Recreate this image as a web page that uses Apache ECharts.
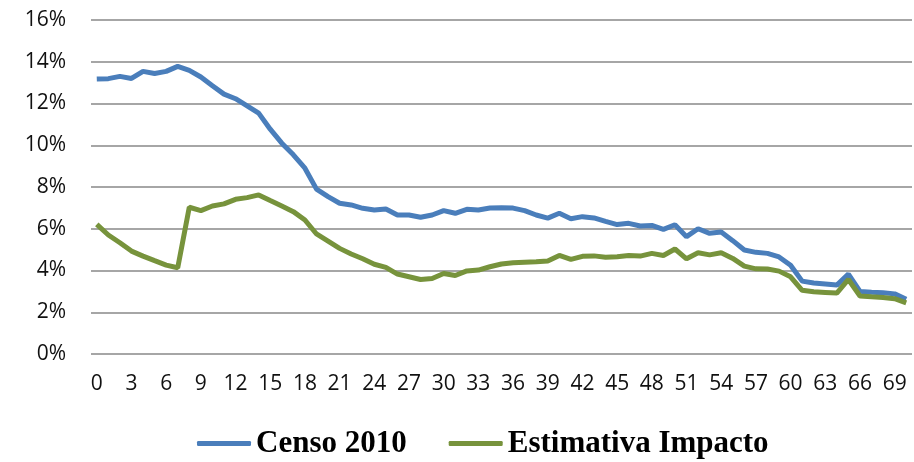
<!DOCTYPE html>
<html lang="pt">
<head>
<meta charset="UTF-8">
<title>Censo 2010 x Estimativa Impacto</title>
<script src="https://cdn.jsdelivr.net/npm/echarts@6/dist/echarts.min.js"></script>
<style>
  html, body { margin: 0; padding: 0; background: #fff; }
  #main { width: 914px; height: 462px; }
</style>
</head>
<body>
<div id="main"></div>
<script>
// idades (eixo x)
var idades = [0, 1, 2, 3, 4, 5, 6, 7, 8, 9, 10, 11, 12, 13, 14, 15, 16, 17, 18, 19,
  20, 21, 22, 23, 24, 25, 26, 27, 28, 29, 30, 31, 32, 33, 34, 35, 36, 37, 38, 39,
  40, 41, 42, 43, 44, 45, 46, 47, 48, 49, 50, 51, 52, 53, 54, 55, 56, 57, 58, 59,
  60, 61, 62, 63, 64, 65, 66, 67, 68, 69, 70];

// valores em %
var censo2010 = [13.17, 13.19, 13.30, 13.20, 13.54, 13.44, 13.54, 13.78, 13.59, 13.27,
  12.85, 12.45, 12.23, 11.89, 11.54, 10.77, 10.10, 9.54, 8.90, 7.90,
  7.54, 7.22, 7.14, 6.98, 6.90, 6.95, 6.66, 6.66, 6.55, 6.66,
  6.87, 6.74, 6.93, 6.90, 6.99, 7.01, 6.99, 6.87, 6.66, 6.51,
  6.74, 6.48, 6.58, 6.52, 6.35, 6.20, 6.26, 6.13, 6.16, 5.97,
  6.19, 5.62, 6.00, 5.78, 5.84, 5.43, 4.98, 4.87, 4.82, 4.65,
  4.25, 3.49, 3.40, 3.35, 3.30, 3.83, 3.00, 2.96, 2.93, 2.88, 2.62];

var estimativa = [6.21, 5.70, 5.33, 4.93, 4.69, 4.47, 4.26, 4.13, 7.03, 6.87,
  7.09, 7.19, 7.41, 7.49, 7.62, 7.35, 7.09, 6.82, 6.42, 5.75,
  5.41, 5.06, 4.79, 4.56, 4.30, 4.15, 3.83, 3.70, 3.57, 3.62,
  3.86, 3.76, 3.98, 4.02, 4.18, 4.31, 4.37, 4.40, 4.42, 4.45,
  4.72, 4.53, 4.68, 4.70, 4.64, 4.66, 4.72, 4.69, 4.82, 4.72,
  5.03, 4.56, 4.85, 4.75, 4.85, 4.58, 4.21, 4.08, 4.07, 3.97,
  3.70, 3.05, 2.98, 2.95, 2.92, 3.57, 2.78, 2.74, 2.71, 2.65, 2.45];

var nomes = ['Censo 2010', 'Estimativa Impacto'];
var cores = ['#4a7ebb', '#77933c'];

var chart = echarts.init(document.getElementById('main'));
var option = {
  animation: false,
  color: cores,
  grid: { left: 91, right: 2, top: 20, bottom: 108, containLabel: false },
  legend: {
    data: nomes,
    top: 423,
    left: 192,
    icon: 'roundRect',
    itemWidth: 54,
    itemHeight: 5,
    itemGap: 42,
    textStyle: {
      fontFamily: 'Liberation Serif',
      fontWeight: 'bold',
      fontSize: 31,
      color: '#000'
    }
  },
  xAxis: {
    type: 'category',
    data: idades,
    boundaryGap: true,
    axisLine: { show: false },
    axisTick: { show: false },
    axisLabel: {
      interval: 2,
      margin: 20,
      fontFamily: 'Open Sans',
      fontSize: 21,
      color: '#111'
    }
  },
  yAxis: {
    type: 'value',
    min: 0,
    max: 16,
    interval: 2,
    axisLine: { show: false },
    axisTick: { show: false },
    axisLabel: {
      formatter: '{value}%',
      margin: 25,
      fontFamily: 'Open Sans',
      fontSize: 21,
      color: '#111'
    },
    splitLine: { lineStyle: { color: '#888', width: 1.5 } }
  },
  series: [
    {
      name: nomes[0],
      type: 'line',
      data: censo2010,
      showSymbol: false,
      lineStyle: { width: 5 }
    },
    {
      name: nomes[1],
      type: 'line',
      data: estimativa,
      showSymbol: false,
      lineStyle: { width: 5 }
    }
  ]
};
chart.setOption(option);
</script>
</body>
</html>
